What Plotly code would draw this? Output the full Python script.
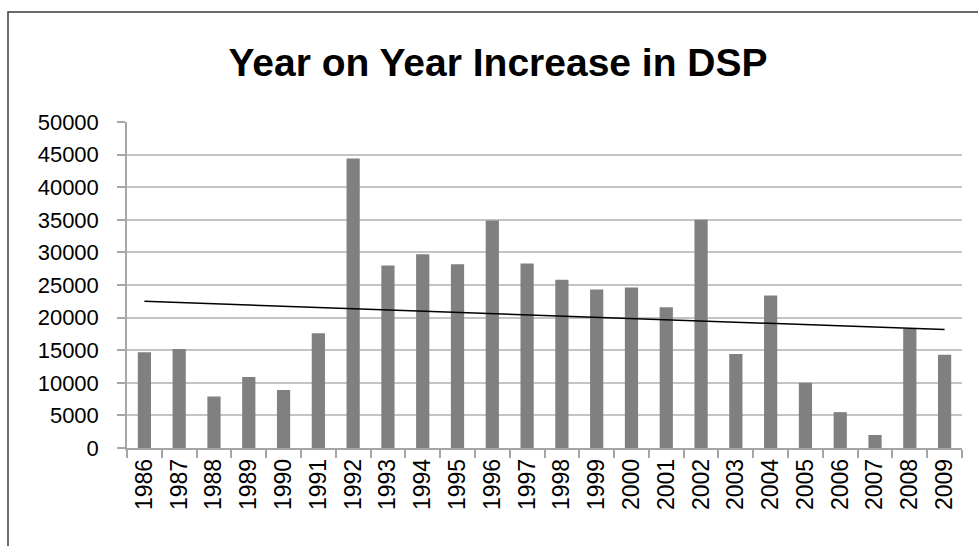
import numpy as np
import plotly.graph_objects as go

years = [str(y) for y in range(1986, 2010)]
increase = [14700, 15200, 7900, 10900, 8900, 17600, 44400, 28000, 29700, 28200,
            34900, 28300, 25800, 24300, 24600, 21600, 35000, 14400, 23400, 10000,
            5500, 2000, 18300, 14300]

# Linear trendline (least squares), as Excel draws it
idx = np.arange(len(increase))
slope, intercept = np.polyfit(idx, increase, 1)
trend = slope * idx + intercept

W, H = 978, 546
ML, MR, MT, MB = 127, 16, 122, 98
PW, PH = W - ML - MR, H - MT - MB

fig = go.Figure()
fig.add_trace(go.Bar(x=years, y=increase, marker=dict(color="#808080", line=dict(width=0)),
                     showlegend=False))
fig.add_trace(go.Scatter(x=years, y=trend, mode="lines", line=dict(color="#000000", width=1.5),
                         showlegend=False))

font = "Liberation Sans, Arial, sans-serif"
fig.update_layout(
    width=W, height=H,
    margin=dict(l=ML, r=MR, t=MT, b=MB, pad=0),
    paper_bgcolor="white", plot_bgcolor="white",
    bargap=0.62,
    font=dict(family=font, color="#000000", size=22),
    title=dict(text="<b>Year on Year Increase in DSP</b>", x=498 / W, xanchor="center",
               xref="container", yref="container", y=1 - 49 / H, yanchor="top",
               font=dict(family=font, size=39, color="#000000")),
    xaxis=dict(type="category", showline=True, linecolor="#a6a6a6", linewidth=1.5,
               ticks="outside", tickson="boundaries", ticklen=8, tickcolor="#a6a6a6",
               tickwidth=1.5, tickangle=-90, tickfont=dict(size=23), showgrid=False),
    yaxis=dict(range=[0, 50000], dtick=5000, tickformat="d", showline=True,
               linecolor="#a6a6a6", linewidth=1.5,
               ticks="outside", ticklen=8, tickcolor="#a6a6a6", tickwidth=1.5,
               ticklabelstandoff=14,
               showgrid=True, gridcolor="#c4c4c4", gridwidth=1.5, zeroline=False,
               tickfont=dict(size=22)),
    shapes=[dict(type="rect", xref="paper", yref="paper",
                 x0=(8 - ML) / PW, x1=(W + 20 - ML) / PW,
                 y0=-(MB + 20) / PH, y1=1 + (MT - 12) / PH,
                 line=dict(color="#3a3a3a", width=1.5), fillcolor="rgba(0,0,0,0)", layer="below")],
)

fig.write_html("out.html")
